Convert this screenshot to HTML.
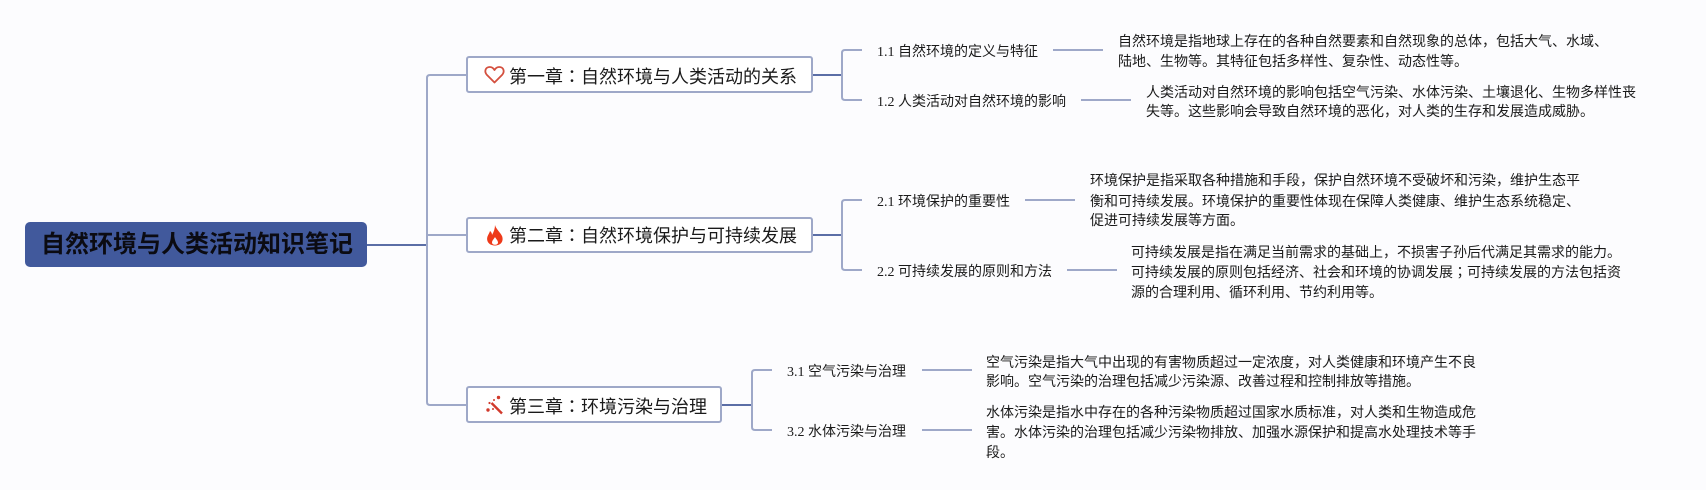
<!DOCTYPE html>
<html><head><meta charset="utf-8"><style>
html,body{margin:0;padding:0;background:#fcfcfe;}
#c{position:relative;width:1706px;height:490px;overflow:hidden;background:#fcfcfe;font-family:"Liberation Serif","Noto Sans CJK SC",sans-serif;color:#1a1a1a;}
#c svg{position:absolute;left:0;top:0;}
.b{position:absolute;box-sizing:border-box;background:#fff;border:2px solid #9ea8c8;border-radius:3px;height:37px;}
.r{position:absolute;left:25px;top:222px;width:342px;height:45px;background:#41599c;border-radius:5px;}
.rt{position:absolute;left:41px;top:222px;line-height:45px;font-size:24px;font-weight:bold;color:#0b0b12;white-space:nowrap;font-family:"Liberation Sans","Noto Sans CJK SC",sans-serif;}
.h{position:absolute;left:509px;line-height:26px;font-size:18px;white-space:nowrap;}
.l{position:absolute;font-size:14px;line-height:20px;white-space:nowrap;}
.t{position:absolute;font-size:14px;line-height:20px;white-space:nowrap;}
.p{font-family:"Noto Sans CJK TC",sans-serif;}
</style></head><body><div id="c">
<svg width="1706" height="490" fill="none">
<g stroke="#5b6ea6" stroke-width="2"><path d="M367 245H427"/><path d="M812 75H842M812 235H842M722 405H752"/></g>
<g stroke="#9ea8c8" stroke-width="2">
<path d="M467 75H430Q427 75 427 78V402Q427 405 430 405H467M427 235H467"/>
<path d="M862 50H845Q842 50 842 53V97Q842 100 845 100H862"/>
<path d="M862 200H845Q842 200 842 203V267Q842 270 845 270H862"/>
<path d="M772 370H755Q752 370 752 373V427Q752 430 755 430H772"/>
<path d="M1053 50H1103M1081 100H1131M1025 200H1075M1067 270H1117M922 370H972M922 430H972"/>
</g>
</svg>
<div class="r"></div><div class="rt">自然环境与人类活动知识笔记</div>
<div class="b" style="left:466px;top:56px;width:347px"></div>
<div class="b" style="left:466px;top:217px;width:347px;height:36px"></div>
<div class="b" style="left:466px;top:386px;width:256px"></div>
<svg width="1706" height="490" fill="none">
<path d="M494.500 82.500L487 75C483.800 71.500 485.500 67 489.800 67C492 67 493.500 68.300 494.500 70C495.500 68.300 497 67 499.200 67C503.500 67 505.200 71.500 502 75Z" stroke="#d4503f" stroke-width="1.800" stroke-linejoin="round"/>
<path fill-rule="evenodd" d="M495 225C496 229 500 232 502 236C504 241 501 245.500 495 245.500C489 245.500 486 241 487.500 236.500C488.200 234.500 489.500 233 490 231C491.500 232 492 233.500 492 235C493.800 232 495 228.500 495 225ZM495 237C494 239 492 240.500 492 242.500C492 244 493.500 244.800 495 244.800C496.500 244.800 498 244 498 242.500C498 240.500 496 239 495 237Z" fill="#ee3a1a"/>
<path d="M491.500 403L502 413.500" stroke="#d13a2c" stroke-width="2.400"/>
<g fill="#d13a2c"><circle cx="498.500" cy="397.500" r="1.700"/><circle cx="488" cy="410" r="1.700"/><circle cx="489.500" cy="403" r="1.100"/><circle cx="494" cy="400" r="1"/><circle cx="493" cy="409" r="1"/></g>
</svg>
<div class="h" style="top:63px">第一章<span class="p">：</span>自然环境与人类活动的关系</div>
<div class="h" style="top:222px">第二章<span class="p">：</span>自然环境保护与可持续发展</div>
<div class="h" style="top:393px">第三章<span class="p">：</span>环境污染与治理</div>
<div class="l" style="left:877px;top:43px">1.1 自然环境的定义与特征</div>
<div class="l" style="left:877px;top:93px">1.2 人类活动对自然环境的影响</div>
<div class="l" style="left:877px;top:193px">2.1 环境保护的重要性</div>
<div class="l" style="left:877px;top:263px">2.2 可持续发展的原则和方法</div>
<div class="l" style="left:787px;top:363px">3.1 空气污染与治理</div>
<div class="l" style="left:787px;top:423px">3.2 水体污染与治理</div>
<div class="t" style="left:1118px;top:33px">自然环境是指地球上存在的各种自然要素和自然现象的总体，包括大气、水域、</div>
<div class="t" style="left:1118px;top:53px">陆地、生物等。其特征包括多样性、复杂性、动态性等。</div>
<div class="t" style="left:1146px;top:84px">人类活动对自然环境的影响包括空气污染、水体污染、土壤退化、生物多样性丧</div>
<div class="t" style="left:1146px;top:103px">失等。这些影响会导致自然环境的恶化，对人类的生存和发展造成威胁。</div>
<div class="t" style="left:1090px;top:172px">环境保护是指采取各种措施和手段，保护自然环境不受破坏和污染，维护生态平</div>
<div class="t" style="left:1090px;top:193px">衡和可持续发展。环境保护的重要性体现在保障人类健康、维护生态系统稳定、</div>
<div class="t" style="left:1090px;top:212px">促进可持续发展等方面。</div>
<div class="t" style="left:1131px;top:244px">可持续发展是指在满足当前需求的基础上，不损害子孙后代满足其需求的能力。</div>
<div class="t" style="left:1131px;top:262px">可持续发展的原则包括经济、社会和环境的协调发展<span class="p">；</span>可持续发展的方法包括资</div>
<div class="t" style="left:1131px;top:284px">源的合理利用、循环利用、节约利用等。</div>
<div class="t" style="left:986px;top:354px">空气污染是指大气中出现的有害物质超过一定浓度，对人类健康和环境产生不良</div>
<div class="t" style="left:986px;top:373px">影响。空气污染的治理包括减少污染源、改善过程和控制排放等措施。</div>
<div class="t" style="left:986px;top:404px">水体污染是指水中存在的各种污染物质超过国家水质标准，对人类和生物造成危</div>
<div class="t" style="left:986px;top:424px">害。水体污染的治理包括减少污染物排放、加强水源保护和提高水处理技术等手</div>
<div class="t" style="left:986px;top:444px">段。</div>
</div></body></html>
